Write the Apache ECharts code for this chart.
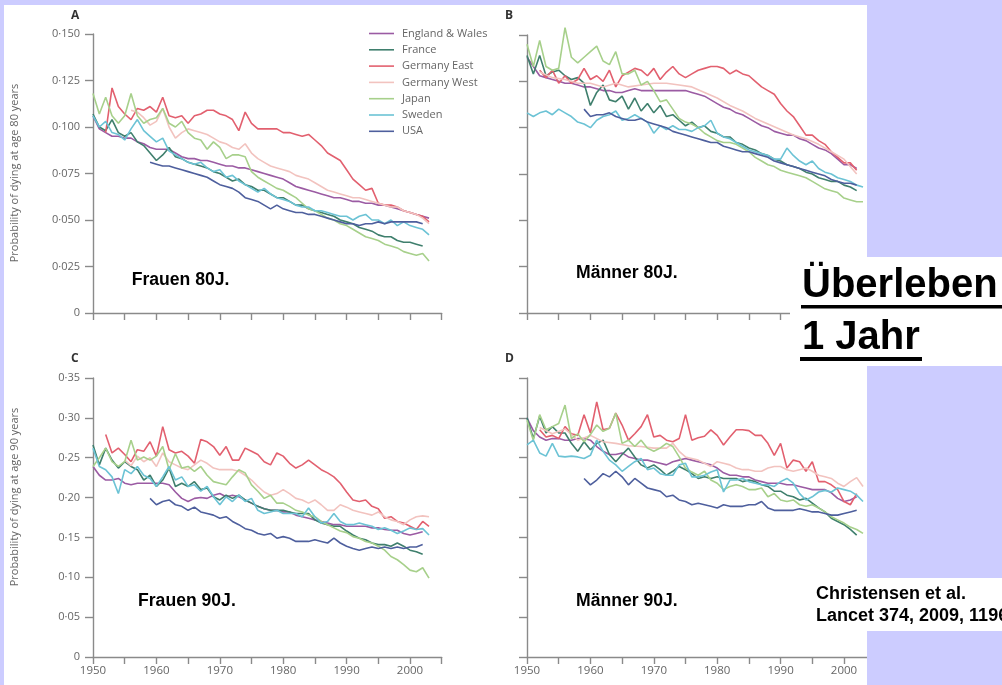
<!DOCTYPE html>
<html><head><meta charset="utf-8">
<script src="https://cdn.jsdelivr.net/npm/echarts@6/dist/echarts.min.js"></script>
<style>html,body{margin:0;padding:0;background:#CCCCFF;}#c{width:1002px;height:685px;}</style>
</head><body><div id="c"></div>
<script>
const countries = ['England & Wales','France','Germany East','Germany West','Japan','Sweden','USA'];
const countryColors = ['#9b5ba3','#3f7f6d','#e2606f','#f2c3bf','#a7d08b','#6cc3d5','#4e5f9d'];
const panelLetters = ['A','B','C','D'];
const panelNotes = ['Frauen 80J.','Männer 80J.','Frauen 90J.','Männer 90J.'];
const yNames = ['Probability of dying at age 80 years', 'Probability of dying at age 90 years'];
const xTickYears = [1950,1960,1970,1980,1990,2000];

// Panel A: women, age 80
const A_EW = [[1950,.106],[1951,.099],[1952,.097],[1953,.095],[1954,.095],[1955,.094],[1956,.094],[1957,.092],[1958,.091],[1959,.089],[1960,.088],[1961,.088],[1962,.088],[1963,.086],[1964,.084],[1965,.083],[1966,.083],[1967,.082],[1968,.082],[1969,.081],[1970,.080],[1971,.079],[1972,.079],[1973,.078],[1974,.078],[1975,.077],[1976,.076],[1977,.075],[1978,.074],[1979,.073],[1980,.072],[1981,.070],[1982,.068],[1983,.067],[1984,.066],[1985,.065],[1986,.064],[1987,.063],[1988,.062],[1989,.062],[1990,.061],[1991,.060],[1992,.060],[1993,.059],[1994,.059],[1995,.058],[1996,.058],[1997,.057],[1998,.056],[1999,.055],[2000,.054],[2001,.053],[2002,.052],[2003,.051]];
const A_FR = [[1950,.107],[1951,.100],[1952,.098],[1953,.104],[1954,.097],[1955,.095],[1956,.097],[1957,.092],[1958,.090],[1959,.086],[1960,.082],[1961,.085],[1962,.089],[1963,.084],[1964,.083],[1965,.081],[1966,.080],[1967,.079],[1968,.078],[1969,.076],[1970,.075],[1971,.073],[1972,.071],[1973,.072],[1974,.069],[1975,.068],[1976,.066],[1977,.066],[1978,.064],[1979,.062],[1980,.062],[1981,.060],[1982,.058],[1983,.058],[1984,.056],[1985,.055],[1986,.054],[1987,.053],[1988,.052],[1989,.050],[1990,.049],[1991,.048],[1992,.046],[1993,.045],[1994,.044],[1995,.042],[1996,.041],[1997,.041],[1998,.039],[1999,.038],[2000,.038],[2001,.037],[2002,.036]];
const A_GE = [[1952,.097],[1953,.121],[1954,.111],[1955,.107],[1956,.104],[1957,.110],[1958,.109],[1959,.111],[1960,.108],[1961,.116],[1962,.106],[1963,.105],[1964,.106],[1965,.102],[1966,.106],[1967,.107],[1968,.109],[1969,.109],[1970,.107],[1971,.106],[1972,.104],[1973,.098],[1974,.108],[1975,.102],[1976,.099],[1977,.099],[1978,.099],[1979,.099],[1980,.097],[1981,.097],[1982,.096],[1983,.095],[1984,.096],[1985,.093],[1986,.090],[1987,.086],[1988,.084],[1989,.082],[1990,.077],[1991,.072],[1992,.069],[1993,.066],[1994,.067],[1995,.059],[1996,.058],[1997,.058],[1998,.057],[1999,.055],[2000,.054],[2001,.053],[2002,.052],[2003,.049]];
const A_GW = [[1956,.109],[1957,.108],[1958,.105],[1959,.101],[1960,.103],[1961,.110],[1962,.100],[1963,.094],[1964,.097],[1965,.099],[1966,.098],[1967,.097],[1968,.096],[1969,.094],[1970,.092],[1971,.091],[1972,.089],[1973,.088],[1974,.091],[1975,.086],[1976,.083],[1977,.081],[1978,.079],[1979,.078],[1980,.077],[1981,.076],[1982,.074],[1983,.073],[1984,.072],[1985,.070],[1986,.068],[1987,.066],[1988,.065],[1989,.064],[1990,.063],[1991,.062],[1992,.062],[1993,.061],[1994,.060],[1995,.059],[1996,.058],[1997,.057],[1998,.057],[1999,.055],[2000,.054],[2001,.053],[2002,.051],[2003,.048]];
const A_JP = [[1950,.118],[1951,.107],[1952,.116],[1953,.106],[1954,.102],[1955,.106],[1956,.118],[1957,.106],[1958,.102],[1959,.104],[1960,.105],[1961,.110],[1962,.102],[1963,.100],[1964,.103],[1965,.097],[1966,.094],[1967,.093],[1968,.088],[1969,.092],[1970,.089],[1971,.083],[1972,.085],[1973,.085],[1974,.084],[1975,.076],[1976,.073],[1977,.071],[1978,.069],[1979,.067],[1980,.066],[1981,.064],[1982,.062],[1983,.059],[1984,.056],[1985,.055],[1986,.053],[1987,.051],[1988,.050],[1989,.048],[1990,.047],[1991,.045],[1992,.043],[1993,.041],[1994,.040],[1995,.039],[1996,.037],[1997,.036],[1998,.035],[1999,.033],[2000,.032],[2001,.031],[2002,.032],[2003,.028]];
const A_SE = [[1950,.106],[1951,.100],[1952,.103],[1953,.097],[1954,.096],[1955,.093],[1956,.099],[1957,.104],[1958,.098],[1959,.095],[1960,.092],[1961,.094],[1962,.087],[1963,.085],[1964,.083],[1965,.081],[1966,.080],[1967,.081],[1968,.078],[1969,.076],[1970,.077],[1971,.073],[1972,.074],[1973,.071],[1974,.069],[1975,.067],[1976,.065],[1977,.067],[1978,.064],[1979,.062],[1980,.061],[1981,.060],[1982,.058],[1983,.057],[1984,.057],[1985,.055],[1986,.055],[1987,.054],[1988,.053],[1989,.052],[1990,.052],[1991,.050],[1992,.052],[1993,.053],[1994,.050],[1995,.050],[1996,.048],[1997,.050],[1998,.047],[1999,.049],[2000,.047],[2001,.046],[2002,.045],[2003,.042]];
const A_US = [[1959,.081],[1960,.080],[1961,.079],[1962,.079],[1963,.078],[1964,.077],[1965,.076],[1966,.075],[1967,.074],[1968,.073],[1969,.071],[1970,.069],[1971,.068],[1972,.067],[1973,.065],[1974,.062],[1975,.061],[1976,.060],[1977,.058],[1978,.056],[1979,.058],[1980,.056],[1981,.055],[1982,.054],[1983,.054],[1984,.053],[1985,.053],[1986,.052],[1987,.051],[1988,.050],[1989,.049],[1990,.048],[1991,.048],[1992,.047],[1993,.048],[1994,.048],[1995,.049],[1996,.048],[1997,.049],[1998,.049],[1999,.049],[2000,.049],[2001,.049],[2002,.048]];

// Panel B: men, age 80
const B_EW = [[1950,.138],[1951,.133],[1952,.128],[1953,.127],[1954,.126],[1955,.125],[1956,.124],[1957,.124],[1958,.123],[1959,.122],[1960,.122],[1961,.121],[1962,.120],[1963,.120],[1964,.119],[1965,.119],[1966,.120],[1967,.121],[1968,.120],[1969,.120],[1970,.120],[1971,.120],[1972,.120],[1973,.120],[1974,.120],[1975,.120],[1976,.119],[1977,.118],[1978,.117],[1979,.115],[1980,.113],[1981,.111],[1982,.110],[1983,.108],[1984,.107],[1985,.105],[1986,.103],[1987,.101],[1988,.100],[1989,.098],[1990,.097],[1991,.096],[1992,.096],[1993,.094],[1994,.093],[1995,.091],[1996,.089],[1997,.088],[1998,.086],[1999,.083],[2000,.080],[2001,.080],[2002,.078]];
const B_FR = [[1950,.139],[1951,.129],[1952,.139],[1953,.128],[1954,.130],[1955,.131],[1956,.128],[1957,.126],[1958,.127],[1959,.124],[1960,.112],[1961,.119],[1962,.123],[1963,.115],[1964,.114],[1965,.117],[1966,.110],[1967,.116],[1968,.109],[1969,.113],[1970,.108],[1971,.112],[1972,.106],[1973,.107],[1974,.104],[1975,.101],[1976,.103],[1977,.100],[1978,.101],[1979,.098],[1980,.097],[1981,.095],[1982,.095],[1983,.092],[1984,.091],[1985,.089],[1986,.088],[1987,.086],[1988,.085],[1989,.083],[1990,.082],[1991,.080],[1992,.079],[1993,.078],[1994,.076],[1995,.075],[1996,.073],[1997,.072],[1998,.071],[1999,.071],[2000,.069],[2001,.068],[2002,.066]];
const B_GE = [[1952,.131],[1953,.127],[1954,.131],[1955,.124],[1956,.128],[1957,.124],[1958,.126],[1959,.132],[1960,.126],[1961,.128],[1962,.125],[1963,.131],[1964,.122],[1965,.128],[1966,.130],[1967,.132],[1968,.131],[1969,.128],[1970,.132],[1971,.126],[1972,.130],[1973,.133],[1974,.129],[1975,.127],[1976,.129],[1977,.131],[1978,.132],[1979,.133],[1980,.133],[1981,.132],[1982,.129],[1983,.131],[1984,.129],[1985,.128],[1986,.125],[1987,.122],[1988,.120],[1989,.118],[1990,.113],[1991,.109],[1992,.106],[1993,.101],[1994,.096],[1995,.096],[1996,.093],[1997,.091],[1998,.087],[1999,.084],[2000,.081],[2001,.081],[2002,.077]];
const B_GW = [[1952,.130],[1954,.127],[1956,.126],[1958,.124],[1960,.124],[1962,.122],[1964,.124],[1966,.122],[1968,.123],[1970,.124],[1972,.124],[1974,.123],[1976,.122],[1978,.119],[1980,.116],[1982,.112],[1984,.109],[1986,.105],[1988,.102],[1990,.099],[1992,.096],[1994,.094],[1996,.091],[1998,.087],[2000,.083],[2002,.075]];
const B_JP = [[1950,.145],[1951,.133],[1952,.147],[1953,.133],[1954,.131],[1955,.132],[1956,.154],[1957,.138],[1958,.135],[1959,.138],[1960,.141],[1961,.144],[1962,.136],[1963,.134],[1964,.141],[1965,.129],[1966,.129],[1967,.131],[1968,.123],[1969,.125],[1970,.120],[1971,.114],[1972,.115],[1973,.110],[1974,.105],[1975,.103],[1976,.102],[1977,.100],[1978,.097],[1979,.095],[1980,.093],[1981,.092],[1982,.092],[1983,.091],[1984,.089],[1985,.087],[1986,.084],[1987,.082],[1988,.080],[1989,.079],[1990,.077],[1991,.076],[1992,.075],[1993,.074],[1994,.073],[1995,.071],[1996,.069],[1997,.067],[1998,.066],[1999,.065],[2000,.062],[2001,.061],[2002,.060],[2003,.060]];
const B_SE = [[1950,.108],[1951,.106],[1952,.108],[1953,.109],[1954,.107],[1955,.110],[1956,.108],[1957,.106],[1958,.103],[1959,.102],[1960,.100],[1961,.104],[1962,.106],[1963,.107],[1964,.109],[1965,.104],[1966,.105],[1967,.107],[1968,.105],[1969,.103],[1970,.097],[1971,.101],[1972,.099],[1973,.101],[1974,.099],[1975,.099],[1976,.098],[1977,.100],[1978,.101],[1979,.104],[1980,.097],[1981,.095],[1982,.094],[1983,.092],[1984,.090],[1985,.088],[1986,.087],[1987,.086],[1988,.085],[1989,.083],[1990,.083],[1991,.089],[1992,.085],[1993,.082],[1994,.080],[1995,.082],[1996,.078],[1997,.076],[1998,.075],[1999,.073],[2000,.072],[2001,.071],[2002,.069],[2003,.068]];
const B_US = [[1959,.110],[1960,.106],[1961,.107],[1962,.107],[1963,.108],[1964,.106],[1965,.105],[1966,.104],[1967,.104],[1968,.105],[1969,.103],[1970,.102],[1971,.101],[1972,.100],[1973,.098],[1974,.097],[1975,.096],[1976,.095],[1977,.094],[1978,.093],[1979,.092],[1980,.092],[1981,.090],[1982,.089],[1983,.088],[1984,.087],[1985,.087],[1986,.086],[1987,.085],[1988,.084],[1989,.082],[1990,.081],[1991,.080],[1992,.079],[1993,.078],[1994,.077],[1995,.076],[1996,.075],[1997,.074],[1998,.072],[1999,.071],[2000,.070],[2001,.070],[2002,.069]];

// Panel C: women, age 90
const C_EW = [[1950,.239],[1951,.228],[1952,.222],[1953,.222],[1954,.224],[1955,.218],[1956,.216],[1957,.218],[1958,.218],[1959,.218],[1960,.218],[1961,.218],[1962,.216],[1963,.207],[1964,.199],[1965,.195],[1966,.199],[1967,.200],[1968,.199],[1969,.203],[1970,.205],[1971,.201],[1972,.203],[1973,.201],[1974,.197],[1975,.193],[1976,.189],[1977,.186],[1978,.184],[1979,.184],[1980,.182],[1981,.182],[1982,.178],[1983,.176],[1984,.174],[1985,.172],[1986,.170],[1987,.168],[1988,.166],[1989,.166],[1990,.164],[1991,.164],[1992,.164],[1993,.164],[1994,.162],[1995,.162],[1996,.160],[1997,.159],[1998,.159],[1999,.155],[2000,.153],[2001,.155],[2002,.157]];
const C_FR = [[1950,.266],[1951,.241],[1952,.262],[1953,.247],[1954,.237],[1955,.245],[1956,.239],[1957,.235],[1958,.222],[1959,.228],[1960,.214],[1961,.222],[1962,.237],[1963,.214],[1964,.218],[1965,.214],[1966,.220],[1967,.210],[1968,.212],[1969,.201],[1970,.197],[1971,.203],[1972,.199],[1973,.203],[1974,.197],[1975,.193],[1976,.189],[1977,.186],[1978,.184],[1979,.184],[1980,.184],[1981,.182],[1982,.180],[1983,.180],[1984,.180],[1985,.172],[1986,.168],[1987,.166],[1988,.164],[1989,.164],[1990,.158],[1991,.153],[1992,.149],[1993,.147],[1994,.143],[1995,.141],[1996,.141],[1997,.139],[1998,.143],[1999,.139],[2000,.134],[2001,.132],[2002,.129]];
const C_GE = [[1952,.279],[1953,.256],[1954,.262],[1955,.254],[1956,.245],[1957,.260],[1958,.258],[1959,.270],[1960,.252],[1961,.289],[1962,.260],[1963,.256],[1964,.258],[1965,.252],[1966,.243],[1967,.273],[1968,.270],[1969,.264],[1970,.253],[1971,.264],[1972,.247],[1973,.247],[1974,.262],[1975,.258],[1976,.254],[1977,.245],[1978,.241],[1979,.256],[1980,.252],[1981,.243],[1982,.237],[1983,.241],[1984,.247],[1985,.241],[1986,.235],[1987,.231],[1988,.226],[1989,.218],[1990,.207],[1991,.197],[1992,.195],[1993,.197],[1994,.189],[1995,.186],[1996,.174],[1997,.176],[1998,.170],[1999,.168],[2000,.164],[2001,.160],[2002,.170],[2003,.164]];
const C_GW = [[1955,.247],[1956,.240],[1957,.252],[1958,.245],[1959,.250],[1960,.239],[1961,.256],[1962,.245],[1963,.241],[1964,.237],[1965,.235],[1966,.241],[1967,.247],[1968,.243],[1969,.237],[1970,.235],[1971,.235],[1972,.235],[1973,.233],[1974,.228],[1975,.222],[1976,.214],[1977,.207],[1978,.203],[1979,.205],[1980,.210],[1981,.205],[1982,.199],[1983,.197],[1984,.193],[1985,.197],[1986,.191],[1987,.184],[1988,.184],[1989,.191],[1990,.188],[1991,.184],[1992,.182],[1993,.180],[1994,.178],[1995,.182],[1996,.176],[1997,.172],[1998,.170],[1999,.166],[2000,.172],[2001,.176],[2002,.177],[2003,.176]];
const C_JP = [[1950,.239],[1951,.250],[1952,.262],[1953,.245],[1954,.239],[1955,.245],[1956,.272],[1957,.247],[1958,.251],[1959,.247],[1960,.252],[1961,.264],[1962,.235],[1963,.255],[1964,.237],[1965,.239],[1966,.233],[1967,.239],[1968,.228],[1969,.220],[1970,.218],[1971,.216],[1972,.226],[1973,.235],[1974,.231],[1975,.216],[1976,.208],[1977,.199],[1978,.203],[1979,.193],[1980,.193],[1981,.189],[1982,.184],[1983,.182],[1984,.178],[1985,.176],[1986,.170],[1987,.166],[1988,.162],[1989,.158],[1990,.156],[1991,.151],[1992,.149],[1993,.145],[1994,.143],[1995,.139],[1996,.134],[1997,.126],[1998,.122],[1999,.116],[2000,.109],[2001,.107],[2002,.112],[2003,.099]];
const C_SE = [[1950,.262],[1951,.239],[1952,.235],[1953,.226],[1954,.205],[1955,.235],[1956,.230],[1957,.239],[1958,.228],[1959,.224],[1960,.214],[1961,.226],[1962,.239],[1963,.222],[1964,.226],[1965,.214],[1966,.216],[1967,.208],[1968,.214],[1969,.201],[1970,.191],[1971,.201],[1972,.195],[1973,.203],[1974,.195],[1975,.199],[1976,.184],[1977,.180],[1978,.182],[1979,.184],[1980,.180],[1981,.180],[1982,.180],[1983,.176],[1984,.187],[1985,.176],[1986,.168],[1987,.170],[1988,.180],[1989,.170],[1990,.166],[1991,.166],[1992,.168],[1993,.166],[1994,.164],[1995,.160],[1996,.162],[1997,.159],[1998,.155],[1999,.158],[2000,.162],[2001,.160],[2002,.161],[2003,.153]];
const C_US = [[1959,.199],[1960,.191],[1961,.195],[1962,.197],[1963,.191],[1964,.189],[1965,.184],[1966,.188],[1967,.182],[1968,.180],[1969,.178],[1970,.174],[1971,.176],[1972,.170],[1973,.166],[1974,.161],[1975,.159],[1976,.155],[1977,.153],[1978,.155],[1979,.149],[1980,.151],[1981,.149],[1982,.145],[1983,.145],[1984,.145],[1985,.147],[1986,.145],[1987,.143],[1988,.149],[1989,.143],[1990,.139],[1991,.136],[1992,.134],[1993,.136],[1994,.138],[1995,.136],[1996,.138],[1997,.136],[1998,.138],[1999,.136],[2000,.138],[2001,.138],[2002,.141]];

// Panel D: men, age 90
const D_EW = [[1950,.300],[1951,.284],[1952,.276],[1953,.272],[1954,.274],[1955,.274],[1956,.272],[1957,.272],[1958,.274],[1959,.274],[1960,.272],[1961,.264],[1962,.258],[1963,.254],[1964,.254],[1965,.256],[1966,.251],[1967,.249],[1968,.247],[1969,.247],[1970,.245],[1971,.243],[1972,.241],[1973,.245],[1974,.247],[1975,.249],[1976,.247],[1977,.245],[1978,.243],[1979,.241],[1980,.237],[1981,.231],[1982,.228],[1983,.228],[1984,.226],[1985,.226],[1986,.222],[1987,.220],[1988,.218],[1989,.218],[1990,.218],[1991,.216],[1992,.216],[1993,.214],[1994,.212],[1995,.210],[1996,.210],[1997,.210],[1998,.206],[1999,.199],[2000,.195],[2001,.197],[2002,.201]];
const D_FR = [[1950,.300],[1951,.274],[1952,.302],[1953,.281],[1954,.289],[1955,.281],[1956,.281],[1957,.268],[1958,.258],[1959,.270],[1960,.260],[1961,.268],[1962,.272],[1963,.254],[1964,.245],[1965,.254],[1966,.262],[1967,.251],[1968,.241],[1969,.237],[1970,.241],[1971,.235],[1972,.228],[1973,.233],[1974,.239],[1975,.235],[1976,.230],[1977,.224],[1978,.226],[1979,.224],[1980,.226],[1981,.224],[1982,.224],[1983,.224],[1984,.220],[1985,.222],[1986,.220],[1987,.216],[1988,.214],[1989,.208],[1990,.208],[1991,.203],[1992,.201],[1993,.197],[1994,.199],[1995,.193],[1996,.187],[1997,.182],[1998,.174],[1999,.170],[2000,.166],[2001,.160],[2002,.153]];
const D_GE = [[1952,.285],[1953,.276],[1954,.278],[1955,.274],[1956,.289],[1957,.280],[1958,.278],[1959,.304],[1960,.281],[1961,.320],[1962,.285],[1963,.287],[1964,.306],[1965,.291],[1966,.272],[1967,.280],[1968,.289],[1969,.304],[1970,.276],[1971,.278],[1972,.272],[1973,.270],[1974,.274],[1975,.304],[1976,.272],[1977,.275],[1978,.277],[1979,.285],[1980,.278],[1981,.266],[1982,.276],[1983,.285],[1984,.285],[1985,.284],[1986,.278],[1987,.278],[1988,.268],[1989,.253],[1990,.268],[1991,.237],[1992,.247],[1993,.245],[1994,.233],[1995,.245],[1996,.220],[1997,.220],[1998,.216],[1999,.210],[2000,.195],[2001,.191],[2002,.205]];
const D_GW = [[1952,.288],[1954,.280],[1956,.286],[1958,.272],[1960,.278],[1962,.270],[1964,.268],[1966,.265],[1968,.264],[1970,.262],[1972,.262],[1973,.268],[1974,.258],[1975,.251],[1976,.249],[1977,.247],[1978,.243],[1979,.239],[1980,.245],[1981,.243],[1982,.241],[1983,.237],[1984,.235],[1985,.235],[1986,.233],[1987,.233],[1988,.237],[1989,.239],[1990,.239],[1991,.235],[1992,.233],[1993,.235],[1994,.237],[1995,.233],[1996,.228],[1997,.226],[1998,.224],[1999,.218],[2000,.214],[2001,.220],[2002,.225],[2003,.214]];
const D_JP = [[1950,.297],[1951,.272],[1952,.304],[1953,.285],[1954,.289],[1955,.293],[1956,.316],[1957,.274],[1958,.280],[1959,.270],[1960,.279],[1961,.291],[1962,.283],[1963,.287],[1964,.306],[1965,.268],[1966,.272],[1967,.264],[1968,.272],[1969,.262],[1970,.258],[1971,.262],[1972,.268],[1973,.264],[1974,.251],[1975,.237],[1976,.232],[1977,.228],[1978,.233],[1979,.222],[1980,.218],[1981,.210],[1982,.214],[1983,.216],[1984,.214],[1985,.210],[1986,.210],[1987,.212],[1988,.201],[1989,.205],[1990,.197],[1991,.195],[1992,.197],[1993,.191],[1994,.189],[1995,.191],[1996,.187],[1997,.182],[1998,.176],[1999,.172],[2000,.168],[2001,.163],[2002,.160],[2003,.155]];
const D_SE = [[1950,.266],[1951,.272],[1952,.256],[1953,.252],[1954,.268],[1955,.252],[1956,.251],[1957,.252],[1958,.251],[1959,.249],[1960,.253],[1961,.272],[1962,.258],[1963,.247],[1964,.241],[1965,.233],[1966,.239],[1967,.245],[1968,.249],[1969,.235],[1970,.237],[1971,.230],[1972,.228],[1973,.228],[1974,.241],[1975,.243],[1976,.226],[1977,.226],[1978,.228],[1979,.232],[1980,.235],[1981,.207],[1982,.222],[1983,.222],[1984,.224],[1985,.220],[1986,.218],[1987,.216],[1988,.216],[1989,.214],[1990,.220],[1991,.224],[1992,.218],[1993,.205],[1994,.197],[1995,.201],[1996,.207],[1997,.209],[1998,.207],[1999,.212],[2000,.210],[2001,.208],[2002,.203],[2003,.195]];
const D_US = [[1959,.224],[1960,.216],[1961,.222],[1962,.230],[1963,.226],[1964,.233],[1965,.226],[1966,.216],[1967,.224],[1968,.218],[1969,.212],[1970,.210],[1971,.208],[1972,.201],[1973,.203],[1974,.197],[1975,.195],[1976,.191],[1977,.193],[1978,.191],[1979,.189],[1980,.187],[1981,.191],[1982,.189],[1983,.189],[1984,.189],[1985,.191],[1986,.191],[1987,.195],[1988,.187],[1989,.184],[1990,.184],[1991,.184],[1992,.184],[1993,.186],[1994,.184],[1995,.182],[1996,.182],[1997,.180],[1998,.178],[1999,.178],[2000,.180],[2001,.182],[2002,.184]];

const panelData = [
  [A_EW, A_FR, A_GE, A_GW, A_JP, A_SE, A_US],
  [B_EW, B_FR, B_GE, B_GW, B_JP, B_SE, B_US],
  [C_EW, C_FR, C_GE, C_GW, C_JP, C_SE, C_US],
  [D_EW, D_FR, D_GE, D_GW, D_JP, D_SE, D_US]
];

const LAV = '#CCCCFF';
const labelFont = '"Open Sans", "Noto Sans", sans-serif';
const boldFont = '"Liberation Sans", Arial, sans-serif';
const axisGray = '#8a8a8a';
const textGray = '#666';

const grids = [
  {left: 93, top: 34, width: 348.7, height: 279},
  {left: 527, top: 35, width: 348.7, height: 278},
  {left: 93, top: 378, width: 348.7, height: 279},
  {left: 527, top: 378, width: 348.7, height: 279}
].map(g => Object.assign({containLabel: false, outerBoundsMode: 'none'}, g));

function fmtY(dec) {
  return v => (Math.abs(v) < 1e-9 ? '0' : v.toFixed(dec).replace('.', '\u00B7'));
}

const xAxes = [0,1,2,3].map(i => ({
  type: 'value', gridIndex: i, min: 1950, max: 2005, interval: 5,
  axisLine: {show: true, lineStyle: {color: axisGray, width: 1.4}},
  axisTick: {show: true, length: 7, lineStyle: {color: axisGray, width: 1.4}},
  splitLine: {show: false},
  axisLabel: {
    show: i >= 2, margin: 8, fontFamily: labelFont, fontSize: 11.5, color: textGray,
    formatter: v => (xTickYears.indexOf(Math.round(v)) >= 0 ? String(Math.round(v)) : '')
  }
}));

const yAxes = [0,1,2,3].map(i => {
  const is80 = i < 2;
  return {
    type: 'value', gridIndex: i, min: 0, max: is80 ? 0.15 : 0.35, interval: is80 ? 0.025 : 0.05,
    axisLine: {show: true, lineStyle: {color: axisGray, width: 1.4}},
    axisTick: {show: true, length: 8, lineStyle: {color: axisGray, width: 1.4}},
    splitLine: {show: false},
    axisLabel: {show: i % 2 === 0, margin: 13, fontFamily: labelFont, fontSize: 11, color: textGray,
      formatter: fmtY(is80 ? 3 : 2)}
  };
});

const series = [];
panelData.forEach((list, p) => {
  list.forEach((data, k) => {
    series.push({
      type: 'line', name: countries[k], xAxisIndex: p, yAxisIndex: p,
      data: data, symbol: 'none', showSymbol: false, smooth: false, clip: false,
      lineStyle: {color: countryColors[k], width: 1.6},
      itemStyle: {color: countryColors[k]},
      emphasis: {disabled: true}, animation: false
    });
  });
});

const letterPos = [[71, 16], [505, 16], [71, 359], [505, 359]];
const notePos = [[131.7, 280.5], [576, 273], [138, 601.5], [576, 601.5]];
const yNamePos = [[15, 173], [15, 497]];

const graphic = [
  {type: 'rect', z: -10, silent: true, shape: {x: 4, y: 5, width: 863, height: 680}, style: {fill: '#fff'}},
  {type: 'rect', z: -10, silent: true, shape: {x: 867, y: 257, width: 135, height: 109}, style: {fill: '#fff'}},
  {type: 'rect', z: -10, silent: true, shape: {x: 867, y: 578, width: 135, height: 53}, style: {fill: '#fff'}},
  {type: 'rect', z: 100, silent: true, shape: {x: 790, y: 257, width: 212, height: 109}, style: {fill: '#fff'}},
  {type: 'rect', z: 100, silent: true, shape: {x: 867, y: 0, width: 135, height: 257}, style: {fill: LAV}},
  {type: 'rect', z: 100, silent: true, shape: {x: 867, y: 366, width: 135, height: 212}, style: {fill: LAV}},
  {type: 'rect', z: 100, silent: true, shape: {x: 867, y: 631, width: 135, height: 54}, style: {fill: LAV}}
];
yNames.forEach((t, i) => graphic.push({
  type: 'text', z: 101, silent: true, x: yNamePos[i][0], y: yNamePos[i][1], rotation: Math.PI / 2,
  style: {text: t, fill: textGray, font: '11px ' + labelFont, verticalAlign: 'middle', align: 'center'}
}));
panelLetters.forEach((t, i) => graphic.push({
  type: 'text', z: 101, silent: true, x: letterPos[i][0], y: letterPos[i][1],
  style: {text: t, fill: '#333', font: 'bold 12px ' + labelFont, verticalAlign: 'middle', align: 'left'}
}));
panelNotes.forEach((t, i) => graphic.push({
  type: 'text', z: 101, silent: true, x: notePos[i][0], y: notePos[i][1],
  style: {text: t, fill: '#000', font: 'bold 17.6px ' + boldFont, verticalAlign: 'middle', align: 'left'}
}));
graphic.push(
  {type: 'text', z: 101, silent: true, x: 802, y: 285.7,
   style: {text: 'Überleben', fill: '#000', font: 'bold 40px ' + boldFont, verticalAlign: 'middle', align: 'left'}},
  {type: 'rect', z: 101, silent: true, shape: {x: 801, y: 305, width: 201, height: 3.5}, style: {fill: '#000'}},
  {type: 'text', z: 101, silent: true, x: 802, y: 337.7,
   style: {text: '1 Jahr', fill: '#000', font: 'bold 40px ' + boldFont, verticalAlign: 'middle', align: 'left'}},
  {type: 'rect', z: 101, silent: true, shape: {x: 800, y: 357, width: 122, height: 4}, style: {fill: '#000'}},
  {type: 'text', z: 101, silent: true, x: 816, y: 594,
   style: {text: 'Christensen et al.', fill: '#000', font: 'bold 18px ' + boldFont, verticalAlign: 'middle', align: 'left'}},
  {type: 'text', z: 101, silent: true, x: 816, y: 616,
   style: {text: 'Lancet 374, 2009, 1196', fill: '#000', font: 'bold 18px ' + boldFont, verticalAlign: 'middle', align: 'left'}}
);

const chart = echarts.init(document.getElementById('c'), null, {renderer: 'canvas'});
chart.setOption({
  backgroundColor: LAV,
  animation: false,
  grid: grids,
  xAxis: xAxes,
  yAxis: yAxes,
  legend: {
    data: countries, orient: 'vertical', left: 369, top: 28,
    icon: 'path://M0,0H25V1.6H0Z', symbolKeepAspect: true,
    itemWidth: 25, itemHeight: 14, itemGap: 5.3, padding: 0, selectedMode: false,
    textStyle: {fontFamily: labelFont, fontSize: 11, color: textGray, padding: [0, 0, 0, 3]}
  },
  series: series,
  graphic: graphic
});
</script></body></html>
